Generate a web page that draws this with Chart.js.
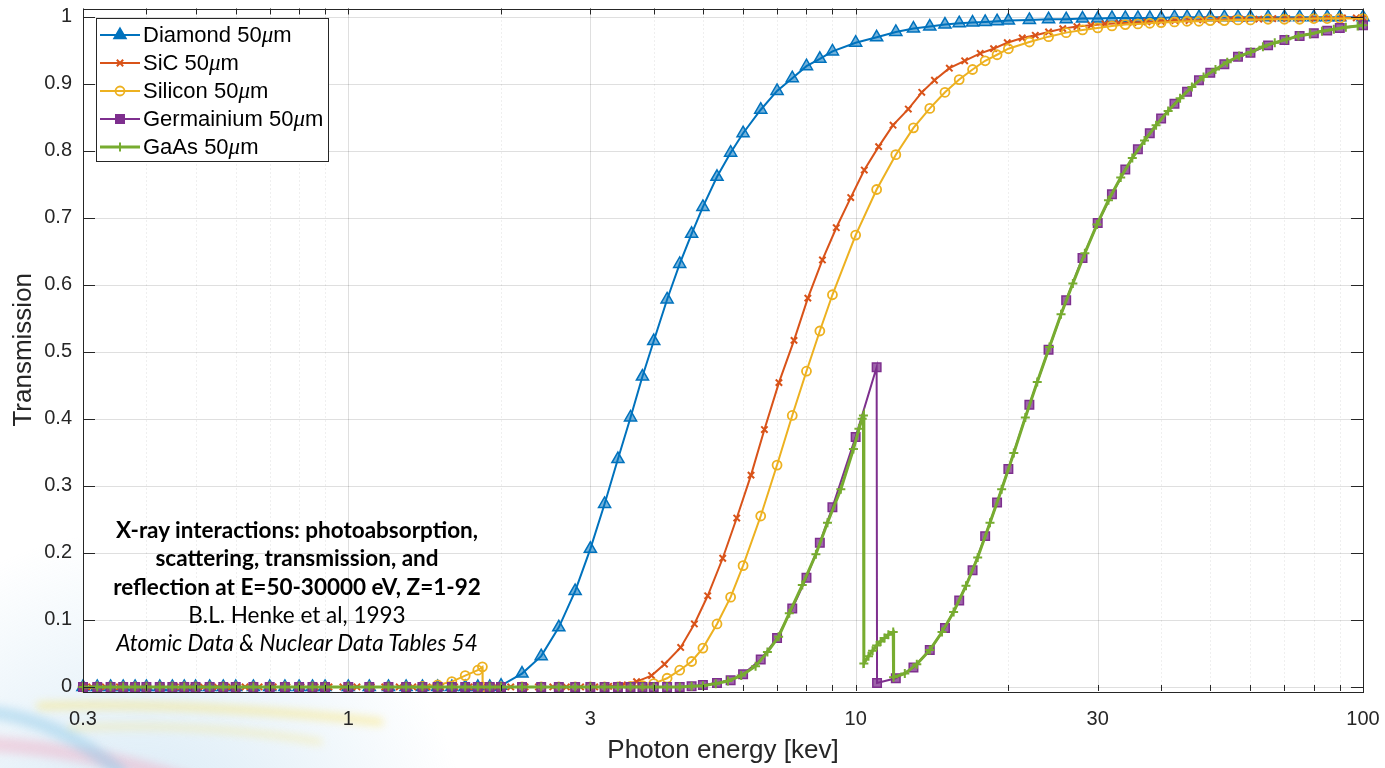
<!DOCTYPE html>
<html>
<head>
<meta charset="utf-8">
<title>X-ray transmission, 50 um filters</title>
<script src="https://cdn.jsdelivr.net/npm/chart.js@4.4.1/dist/chart.umd.min.js"></script>
<style>
  html, body { margin: 0; padding: 0; background: #fff; }
  #wrap { position: relative; width: 1385px; height: 768px; overflow: hidden; }
  #chart { position: absolute; left: 0; top: 0; }
  #note {
    position: absolute; left: 77px; top: 516px; width: 440px;
    text-align: center; font-family: Lato, "Open Sans", sans-serif;
    font-size: 22.5px; line-height: 28.3px; color: #000;
  }
  #note b { font-weight: 700; }
</style>
</head>
<body>
<div id="wrap">
  <canvas id="chart" width="1385" height="768"></canvas>
  <div id="note">
    <b>X-ray interactions: photoabsorption,<br>scattering, transmission, and<br>reflection at E=50-30000 eV, Z=1-92</b><br>
    B.L. Henke et al, 1993<br>
    <i>Atomic Data &amp; Nuclear Data Tables 54</i>
  </div>
</div>
<script>
// ---- data (photon energy in keV, transmission 0..1) ----

// energy grid shared by Diamond / Silicon / Germanium markers
var energy = [
  0.3, 0.32, 0.34, 0.36, 0.38, 0.4, 0.425, 0.45, 0.475, 0.5,
  0.533, 0.567, 0.6, 0.65, 0.7, 0.75, 0.8, 0.85, 0.9, 1.0,
  1.1, 1.2, 1.3, 1.4, 1.5, 1.6, 1.7, 1.8, 1.9, 2.0,
  2.2, 2.4, 2.6, 2.8, 3.0, 3.2, 3.4, 3.6, 3.8, 4.0,
  4.25, 4.5, 4.75, 5.0, 5.33, 5.67, 6.0, 6.5, 7.0, 7.5,
  8.0, 8.5, 9.0, 10, 11, 12, 13, 14, 15, 16,
  17, 18, 19, 20, 22, 24, 26, 28, 30, 32,
  34, 36, 38, 40, 42.5, 45, 47.5, 50, 53.3, 56.7,
  60, 65, 70, 75, 80, 85, 90, 100
];
var diamond = [
  0, 0, 0, 0, 0, 0, 0, 0, 0, 0,
  0, 0, 0, 0, 0, 0, 0, 0, 0, 0,
  0, 0, 0, 0, 0, 0, 0, 0, 0, 0.002,
  0.02, 0.046, 0.089, 0.143, 0.206, 0.273, 0.34, 0.402, 0.463, 0.516,
  0.578, 0.631, 0.676, 0.716, 0.761, 0.797, 0.826, 0.861, 0.889, 0.908,
  0.926, 0.937, 0.948, 0.961, 0.969, 0.977, 0.982, 0.985, 0.988, 0.99,
  0.991, 0.992, 0.993, 0.994, 0.995, 0.996, 0.996, 0.997, 0.997, 0.998,
  0.998, 0.998, 0.998, 0.998, 0.999, 0.999, 0.999, 0.999, 0.999, 0.999,
  0.999, 0.999, 0.999, 0.999, 0.999, 0.999, 0.999, 0.999
];

// silicon: same grid plus the two points either side of the K edge (1.84 keV)
var siliconEnergy = [
  0.3, 0.32, 0.34, 0.36, 0.38, 0.4, 0.425, 0.45, 0.475, 0.5,
  0.533, 0.567, 0.6, 0.65, 0.7, 0.75, 0.8, 0.85, 0.9, 1.0,
  1.1, 1.2, 1.3, 1.4, 1.5, 1.6, 1.7, 1.8, 1.838, 1.84, 1.9, 2.0,
  2.2, 2.4, 2.6, 2.8, 3.0, 3.2, 3.4, 3.6, 3.8, 4.0,
  4.25, 4.5, 4.75, 5.0, 5.33, 5.67, 6.0, 6.5, 7.0, 7.5,
  8.0, 8.5, 9.0, 10, 11, 12, 13, 14, 15, 16,
  17, 18, 19, 20, 22, 24, 26, 28, 30, 32,
  34, 36, 38, 40, 42.5, 45, 47.5, 50, 53.3, 56.7,
  60, 65, 70, 75, 80, 85, 90, 100
];
var silicon = [
  0, 0, 0, 0, 0, 0, 0, 0, 0, 0,
  0, 0, 0, 0, 0, 0, 0, 0, 0, 0,
  0, 0, 0, 0.001, 0.003, 0.008, 0.017, 0.025, 0.03, 0, 0, 0,
  0, 0, 0, 0, 0, 0, 0, 0.001, 0.002, 0.005,
  0.013, 0.025, 0.038, 0.058, 0.094, 0.134, 0.181, 0.255, 0.331, 0.405,
  0.471, 0.531, 0.585, 0.674, 0.742, 0.794, 0.834, 0.863, 0.887, 0.906,
  0.921, 0.934, 0.943, 0.952, 0.962, 0.97, 0.976, 0.98, 0.983, 0.986,
  0.988, 0.989, 0.99, 0.991, 0.992, 0.993, 0.993, 0.994, 0.994, 0.995,
  0.995, 0.996, 0.996, 0.996, 0.997, 0.997, 0.997, 0.997
];

// SiC has its own (log spaced) energy points
var sicEnergy = [
  0.3, 0.312, 0.332, 0.354, 0.377, 0.402, 0.428, 0.456, 0.486, 0.518,
  0.552, 0.588, 0.626, 0.667, 0.711, 0.757, 0.807, 0.86, 0.916, 0.976,
  1.04, 1.11, 1.18, 1.26, 1.34, 1.43, 1.52, 1.62, 1.73, 1.84,
  1.96, 2.09, 2.23, 2.37, 2.53, 2.69, 2.87, 3.06, 3.26, 3.47,
  3.70, 3.96, 4.2, 4.52, 4.81, 5.11, 5.47, 5.83, 6.22, 6.61,
  7.06, 7.56, 8.05, 8.6, 9.16, 9.78, 10.4, 11.1, 11.85, 12.7,
  13.5, 14.3, 15.3, 16.4, 17.6, 18.7, 19.9, 21.3, 22.6, 24.0,
  25.6, 27.3, 29.1, 31.0, 33.0, 35.2, 37.5, 40.0, 42.6, 45.4,
  48.3, 51.5, 54.9, 58.5, 62.3, 66.4, 70.7, 75.3, 80.3, 85.5,
  91.1, 97.0, 100
];
var sic = [
  0, 0, 0, 0, 0, 0, 0, 0, 0, 0,
  0, 0, 0, 0, 0, 0, 0, 0, 0, 0,
  0, 0, 0, 0, 0, 0, 0, 0, 0, 0,
  0, 0, 0, 0, 0, 0, 0, 0, 0.001, 0.003,
  0.008, 0.017, 0.034, 0.059, 0.094, 0.136, 0.192, 0.252, 0.316, 0.384,
  0.454, 0.517, 0.58, 0.637, 0.685, 0.73, 0.771, 0.806, 0.838, 0.862,
  0.887, 0.905, 0.923, 0.934, 0.945, 0.952, 0.961, 0.968, 0.972, 0.977,
  0.982, 0.985, 0.987, 0.989, 0.99, 0.991, 0.992, 0.993, 0.994, 0.994,
  0.995, 0.995, 0.996, 0.996, 0.996, 0.997, 0.997, 0.997, 0.997, 0.998,
  0.998, 0.998, 0.998
];

// germanium: grid plus the point just after the K edge (11.1 keV)
var germaniumEnergy = [
  0.3, 0.32, 0.34, 0.36, 0.38, 0.4, 0.425, 0.45, 0.475, 0.5,
  0.533, 0.567, 0.6, 0.65, 0.7, 0.75, 0.8, 0.85, 0.9, 1.0,
  1.1, 1.2, 1.3, 1.4, 1.5, 1.6, 1.7, 1.8, 1.9, 2.0,
  2.2, 2.4, 2.6, 2.8, 3.0, 3.2, 3.4, 3.6, 3.8, 4.0,
  4.25, 4.5, 4.75, 5.0, 5.33, 5.67, 6.0, 6.5, 7.0, 7.5,
  8.0, 8.5, 9.0, 10, 11, 11.02, 12, 13, 14, 15, 16,
  17, 18, 19, 20, 22, 24, 26, 28, 30, 32,
  34, 36, 38, 40, 42.5, 45, 47.5, 50, 53.3, 56.7,
  60, 65, 70, 75, 80, 85, 90, 100
];
var germanium = [
  0, 0, 0, 0, 0, 0, 0, 0, 0, 0,
  0, 0, 0, 0, 0, 0, 0, 0, 0, 0,
  0, 0, 0, 0, 0, 0, 0, 0, 0, 0,
  0, 0, 0, 0, 0, 0, 0, 0, 0, 0,
  0, 0, 0.001, 0.003, 0.006, 0.01, 0.019, 0.041, 0.073, 0.117,
  0.163, 0.215, 0.268, 0.373, 0.477, 0.006, 0.013, 0.029, 0.055, 0.088, 0.129,
  0.174, 0.225, 0.275, 0.325, 0.421, 0.503, 0.577, 0.64, 0.692, 0.735,
  0.772, 0.802, 0.826, 0.848, 0.87, 0.888, 0.905, 0.916, 0.929, 0.94,
  0.946, 0.957, 0.965, 0.971, 0.975, 0.979, 0.983, 0.987
];

// GaAs: Ga K edge 10.37 keV, As K edge 11.87 keV
var gaasEnergy = [
  0.3, 0.32, 0.34, 0.36, 0.38, 0.4, 0.425, 0.45, 0.475, 0.5,
  0.533, 0.567, 0.6, 0.65, 0.7, 0.75, 0.8, 0.85, 0.9, 1.0,
  1.1, 1.2, 1.3, 1.4, 1.5, 1.6, 1.7, 1.8, 1.9, 2.0,
  2.2, 2.4, 2.6, 2.8, 3.0, 3.2, 3.4, 3.6, 3.8, 4.0,
  4.25, 4.5, 4.75,
  5.0, 5.3, 5.6, 5.95, 6.35, 6.7, 7.05, 7.4, 7.85, 8.35,
  8.8, 9.35, 9.9, 10.15, 10.3, 10.36, 10.38, 10.6, 10.8, 11.0,
  11.2, 11.4, 11.6, 11.86, 11.88, 12.5, 13.2, 14.0, 14.8, 15.6,
  16.5, 17.4, 18.4, 19.4, 20.5, 21.6, 22.8, 24.1, 25.4, 26.8,
  28.3, 29.9, 31.5, 33.3, 35.1, 37.1, 39.1, 41.3, 43.6, 46.0,
  48.5, 51.2, 54.0, 57.0, 60.1, 63.5, 67.0, 70.7, 74.6, 78.7,
  83.0, 87.6, 92.5, 97.6, 100
];
var gaas = [
  0, 0, 0, 0, 0, 0, 0, 0, 0, 0,
  0, 0, 0, 0, 0, 0, 0, 0, 0, 0,
  0, 0, 0, 0, 0, 0, 0, 0, 0, 0,
  0, 0, 0, 0, 0, 0, 0, 0, 0, 0,
  0, 0, 0.001,
  0.002, 0.005, 0.009, 0.017, 0.031, 0.052, 0.075, 0.11, 0.152, 0.198,
  0.245, 0.295, 0.355, 0.385, 0.4, 0.405, 0.035, 0.046, 0.054, 0.062,
  0.068, 0.073, 0.078, 0.082, 0.0145, 0.02, 0.034, 0.055, 0.082, 0.112,
  0.151, 0.193, 0.245, 0.295, 0.349, 0.402, 0.455, 0.507, 0.556, 0.602,
  0.647, 0.69, 0.726, 0.76, 0.789, 0.815, 0.838, 0.859, 0.878, 0.895,
  0.91, 0.921, 0.932, 0.941, 0.947, 0.955, 0.961, 0.966, 0.971, 0.974,
  0.978, 0.981, 0.984, 0.986, 0.987
];

// axis ticks
var xTickLabels = [0.3, 1, 3, 10, 30, 100];
var xMinorTicks = [0.4, 0.5, 0.6, 0.7, 0.8, 0.9, 2, 4, 5, 6, 7, 8, 9, 20, 40, 50, 60, 70, 80, 90];
var yTicks = [0, 0.1, 0.2, 0.3, 0.4, 0.5, 0.6, 0.7, 0.8, 0.9, 1];


// ---- chart ----
var AXIS = '#262626';
var FONT = '"Liberation Sans", Arial, Helvetica, sans-serif';

function pairs(xs, ys) {
    return xs.map(function(x, i){ return {x: x, y: ys[i]}; });
}

function streak(c, color, width, pts) {
    c.strokeStyle = color;
    c.lineWidth = width;
    c.beginPath();
    c.moveTo(pts[0], pts[1]);
    c.quadraticCurveTo(pts[2], pts[3], pts[4], pts[5]);
    c.stroke();
}

// matlab-ish frame: grid, inward ticks, box and the legend
var frame = {
    id: 'frame',
    beforeDraw: function(chart){
        var c = chart.ctx, a = chart.chartArea;
        c.save();
        // faint slide swoosh in the lower left corner
        var g = c.createRadialGradient(140, 860, 20, 140, 860, 330);
        g.addColorStop(0, 'rgba(175,212,236,0.5)');
        g.addColorStop(1, 'rgba(175,212,236,0)');
        c.fillStyle = g;
        c.fillRect(0, 520, 700, 248);
        c.filter = 'blur(4px)';
        c.lineCap = 'round';
        streak(c, 'rgba(250,225,100,0.5)', 7, [40, 706, 200, 702, 380, 722]);
        streak(c, 'rgba(250,225,100,0.4)', 5, [70, 728, 200, 722, 320, 742]);
        streak(c, 'rgba(240,165,190,0.4)', 16, [-10, 744, 90, 750, 190, 782]);
        streak(c, 'rgba(130,195,230,0.4)', 14, [-10, 712, 60, 720, 120, 772]);
        c.restore();
        c.fillStyle = '#fff';
        c.fillRect(a.left, a.top, a.right - a.left, a.bottom - a.top);
    },
    beforeDatasetsDraw: function(chart){
        var c = chart.ctx, a = chart.chartArea, sx = chart.scales.x, sy = chart.scales.y;
        c.save();
        c.lineWidth = 1;
        c.strokeStyle = 'rgba(38,38,38,0.15)';
        c.setLineDash([1, 3]);
        xMinorTicks.forEach(function(v){
            var px = Math.round(sx.getPixelForValue(v)) + 0.5;
            c.beginPath(); c.moveTo(px, a.top); c.lineTo(px, a.bottom); c.stroke();
        });
        c.setLineDash([]);
        xTickLabels.forEach(function(v){
            var px = Math.round(sx.getPixelForValue(v)) + 0.5;
            c.beginPath(); c.moveTo(px, a.top); c.lineTo(px, a.bottom); c.stroke();
        });
        yTicks.forEach(function(v){
            var py = Math.round(sy.getPixelForValue(v)) + 0.5;
            c.beginPath(); c.moveTo(a.left, py); c.lineTo(a.right, py); c.stroke();
        });
        c.restore();
    },
    afterDatasetsDraw: function(chart){
        var c = chart.ctx, a = chart.chartArea, sx = chart.scales.x, sy = chart.scales.y;
        c.save();
        c.strokeStyle = AXIS;
        c.lineWidth = 1;
        xTickLabels.concat(xMinorTicks).forEach(function(v){
            var px = Math.round(sx.getPixelForValue(v)) + 0.5;
            c.beginPath();
            c.moveTo(px, a.bottom); c.lineTo(px, a.bottom - 6);
            c.moveTo(px, a.top); c.lineTo(px, a.top + 6);
            c.stroke();
        });
        yTicks.forEach(function(v){
            var py = Math.round(sy.getPixelForValue(v)) + 0.5;
            c.beginPath();
            c.moveTo(a.left, py); c.lineTo(a.left + 12, py);
            c.moveTo(a.right, py); c.lineTo(a.right - 12, py);
            c.stroke();
        });
        c.strokeRect(Math.round(a.left) + 0.5, Math.round(a.top) + 0.5,
                     Math.round(a.right - a.left), Math.round(a.bottom - a.top));

        // legend
        var box = {x: 96.5, y: 18.5, w: 232, h: 143};
        c.fillStyle = '#fff';
        c.fillRect(box.x, box.y, box.w, box.h);
        c.strokeRect(box.x, box.y, box.w, box.h);
        chart.data.datasets.forEach(function(ds, i){
            var yy = 35 + i * 28;
            c.strokeStyle = ds.borderColor;
            c.lineWidth = ds.borderWidth;
            c.beginPath(); c.moveTo(100, yy); c.lineTo(140, yy); c.stroke();
            c.fillStyle = ds.pointStyle === 'circle' ? 'rgba(0,0,0,0)' : ds.borderColor;
            c.lineWidth = ds.pointBorderWidth;
            Chart.helpers.drawPoint(c, {pointStyle: ds.pointStyle, radius: ds.pointRadius,
                                        rotation: 0, borderWidth: ds.pointBorderWidth}, 120, yy);
            var parts = ds.label.split('\u03bc');
            var tx = 143;
            c.fillStyle = '#000';
            c.textBaseline = 'middle';
            c.font = '22px ' + FONT;
            c.fillText(parts[0], tx, yy + 1);
            tx += c.measureText(parts[0]).width;
            c.font = 'italic 23px "Liberation Serif", "DejaVu Serif", serif';
            c.fillText('\u03bc', tx, yy + 1);
            tx += c.measureText('\u03bc').width;
            c.font = '22px ' + FONT;
            c.fillText(parts[1], tx, yy + 1);
        });
        c.restore();
    }
};

new Chart(document.getElementById('chart'), {
    type: 'line',
    data: {
        datasets: [
            {label: 'Diamond 50\u03bcm', data: pairs(energy, diamond),
             borderColor: '#0072BD', backgroundColor: 'rgba(0,114,189,0.55)', borderWidth: 2,
             pointStyle: 'triangle', pointRadius: 7, pointBorderWidth: 1.5, order: 5},
            {label: 'SiC 50\u03bcm', data: pairs(sicEnergy, sic),
             borderColor: '#D95319', backgroundColor: '#D95319', borderWidth: 2,
             pointStyle: 'crossRot', pointRadius: 4.5, pointBorderWidth: 2, order: 4},
            {label: 'Silicon 50\u03bcm', data: pairs(siliconEnergy, silicon),
             borderColor: '#EDB120', backgroundColor: 'rgba(255,255,255,0)', borderWidth: 2,
             pointStyle: 'circle', pointRadius: 4.5, pointBorderWidth: 1.8, order: 3},
            {label: 'Germainium 50\u03bcm', data: pairs(germaniumEnergy, germanium),
             borderColor: '#7E2F8E', backgroundColor: 'rgba(126,47,142,0.75)', borderWidth: 2,
             pointStyle: 'rect', pointRadius: 6, pointBorderWidth: 1.5, order: 2},
            {label: 'GaAs 50\u03bcm', data: pairs(gaasEnergy, gaas),
             borderColor: '#77AC30', backgroundColor: '#77AC30', borderWidth: 3,
             pointStyle: 'cross', pointRadius: 4.5, pointBorderWidth: 2, order: 1}
        ]
    },
    options: {
        responsive: false,
        animation: false,
        devicePixelRatio: 1,
        clip: false,
        layout: {padding: {top: 8, right: 22, bottom: 0, left: 0}},
        elements: {line: {tension: 0}},
        plugins: {legend: {display: false}, tooltip: {enabled: false}},
        scales: {
            x: {
                type: 'logarithmic', min: 0.3, max: 100,
                grid: {display: false, drawTicks: false}, border: {display: false},
                afterBuildTicks: function(s){ s.ticks = xTickLabels.map(function(v){ return {value: v}; }); },
                afterFit: function(s){ s.height = 77; s.paddingLeft = 0; s.paddingRight = 0; },
                ticks: {font: {family: FONT, size: 20}, color: AXIS, padding: 16,
                        maxRotation: 0, autoSkip: false,
                        callback: function(v){ return String(v); }},
                title: {display: true, text: 'Photon energy [kev]', color: AXIS,
                        font: {family: FONT, size: 26}, padding: {top: 0, bottom: 2}}
            },
            y: {
                type: 'linear', min: -0.006, max: 1.012,
                grid: {display: false, drawTicks: false}, border: {display: false},
                afterBuildTicks: function(s){ s.ticks = yTicks.map(function(v){ return {value: v}; }); },
                afterFit: function(s){ s.width = 83; s.paddingTop = 0; s.paddingBottom = 0; },
                ticks: {font: {family: FONT, size: 20}, color: AXIS, padding: 11,
                        callback: function(v){ return String(+v.toFixed(1)); }},
                title: {display: true, text: 'Transmission', color: AXIS,
                        font: {family: FONT, size: 26}, padding: {top: 8, bottom: 0}}
            }
        }
    },
    plugins: [frame]
});
</script>
</body>
</html>
